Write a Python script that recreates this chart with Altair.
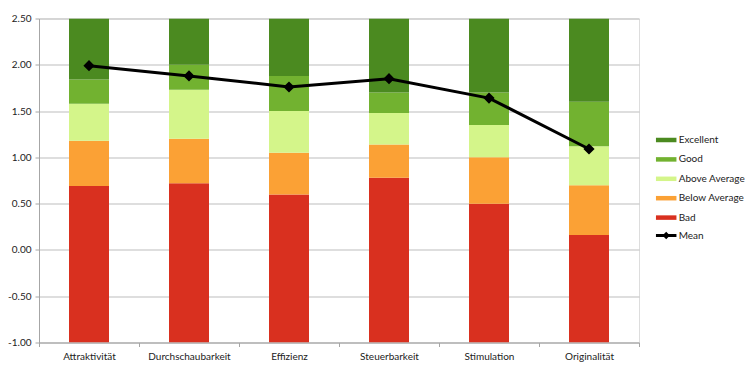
import altair as alt
import pandas as pd

categories = ["Attraktivität", "Durchschaubarkeit", "Effizienz", "Steuerbarkeit", "Stimulation", "Originalität"]
axis_min = -1.0
axis_max = 2.5
bad_top = [0.69, 0.72, 0.60, 0.78, 0.50, 0.16]
below_top = [1.18, 1.20, 1.05, 1.14, 1.00, 0.70]
above_top = [1.58, 1.73, 1.50, 1.48, 1.35, 1.12]
good_top = [1.84, 2.00, 1.88, 1.70, 1.70, 1.60]
mean_values = [1.99, 1.88, 1.76, 1.85, 1.64, 1.09]

series = ["Excellent", "Good", "Above Average", "Below Average", "Bad"]
colors = ["#4B8A20", "#72B230", "#D4F58A", "#FBA135", "#D9301F"]

rows = []
for i, c in enumerate(categories):
    bounds = [axis_min, bad_top[i], below_top[i], above_top[i], good_top[i], axis_max]
    names = ["Bad", "Below Average", "Above Average", "Good", "Excellent"]
    for j, n in enumerate(names):
        rows.append({"cat": c, "series": n, "lower": bounds[j], "upper": bounds[j + 1]})
bars_df = pd.DataFrame(rows)
mean_df = pd.DataFrame({"cat": categories, "mean": mean_values, "s": ["Mean"] * len(categories)})

FONT = "Lato"
TXT = "#222222"

x_enc = alt.X("cat:N", sort=categories, title=None,
              scale=alt.Scale(paddingInner=0, paddingOuter=0),
              axis=alt.Axis(labelAngle=0, tickBand="extent", tickSize=4, tickColor="#A6A6A6",
                            domainColor="#A6A6A6", labelFont=FONT, labelFontSize=10,
                            labelColor=TXT, labelPadding=5, grid=False))
y_scale = alt.Scale(domain=[axis_min, axis_max], nice=False, zero=False)

bars = alt.Chart(bars_df).mark_bar(width=40, clip=True).encode(
    x=x_enc,
    y=alt.Y("lower:Q", scale=y_scale, title=None,
            axis=alt.Axis(values=[-1.0, -0.5, 0.0, 0.5, 1.0, 1.5, 2.0, 2.5], format=".2f",
                          labelExpr="replace(datum.label, '\u2212', '-')",
                          grid=True, gridColor="#BDBDBD", gridWidth=1, tickSize=4,
                          tickColor="#A6A6A6", domainColor="#A6A6A6", labelFont=FONT,
                          labelFontSize=10, labelColor=TXT, labelPadding=4)),
    y2="upper:Q",
    color=alt.Color("series:N", scale=alt.Scale(domain=series, range=colors),
                    legend=alt.Legend(title=None, orient="none", legendX=616.7, legendY=111,
                                      padding=0, symbolSize=420, symbolStrokeWidth=0,
                                      labelFont=FONT, labelFontSize=10, labelColor=TXT,
                                      labelOffset=2, rowPadding=3.4, symbolOpacity=1,
                                      symbolType="M-1,-0.22H1V0.22H-1Z")),
)

line = alt.Chart(mean_df).mark_line(strokeWidth=3,
                                    point=alt.OverlayMarkDef(shape="diamond", size=70, color="black", filled=True)).encode(
    x=alt.X("cat:N", sort=categories),
    y=alt.Y("mean:Q", scale=y_scale),
    stroke=alt.Stroke("s:N", scale=alt.Scale(domain=["Mean"], range=["black"]),
                      legend=alt.Legend(title=None, orient="none", legendX=616.7, legendY=206.5,
                                        padding=0, symbolSize=420, symbolStrokeWidth=0,
                                        symbolFillColor="black", symbolOpacity=1,
                                        labelFont=FONT, labelFontSize=10, labelColor=TXT,
                                        labelOffset=2,
                                        symbolType="M-1,-0.14H1V0.14H-1Z M-0.36,0L0,-0.36L0.36,0L0,0.36Z")),
)

chart = alt.layer(bars, line).resolve_legend(color="independent", stroke="independent").properties(
    width=600, height=324,
    autosize=alt.AutoSizeParams(type="none"),
    padding={"left": 31, "top": 10.5, "right": 108, "bottom": 20},
).configure_view(stroke=None).configure(background="white")

chart.save("out.html", embed_options={"renderer": "svg", "actions": False})
